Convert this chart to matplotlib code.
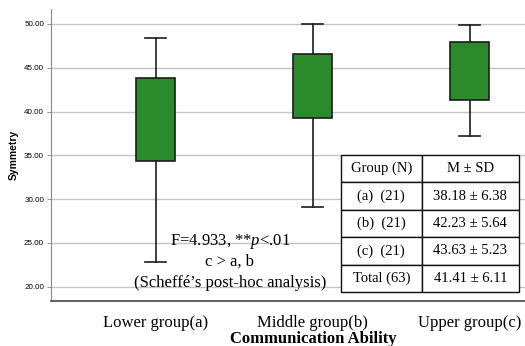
import matplotlib
matplotlib.use('Agg')
import matplotlib.pyplot as plt

# box statistics
groups = ["Lower group(a)", "Middle group(b)", "Upper group(c)"]
whislo = [22.8, 29.1, 37.2]
q1 = [34.4, 39.3, 41.35]
med = [38.1, 43.35, 44.3]
q3 = [43.8, 46.6, 47.9]
whishi = [48.4, 50.0, 49.9]

yticks = [20, 25, 30, 35, 40, 45, 50]

table_rows = [["Group (N)", "M \u00b1 SD"],
              ["(a)  (21)", "38.18 \u00b1 6.38"],
              ["(b)  (21)", "42.23 \u00b1 5.64"],
              ["(c)  (21)", "43.63 \u00b1 5.23"],
              ["Total (63)", "41.41 \u00b1 6.11"]]

anova_lines = ["F=4.933, **$\\mathit{p}$<.01", "c > a, b",
               "(Scheff\u00e9\u2019s post-hoc analysis)"]

plt.rcParams['mathtext.fontset'] = 'custom'
plt.rcParams['mathtext.it'] = 'Liberation Serif:italic'
plt.rcParams['mathtext.rm'] = 'Liberation Serif'
serif = 'Liberation Serif'
sans = 'Liberation Sans'

fig = plt.figure(figsize=(5.25, 3.46), dpi=100)
ax = fig.add_axes([51 / 525, 45 / 346, 474 / 525, 292 / 346])

stats = []
for i in range(len(groups)):
    stats.append(dict(whislo=whislo[i], q1=q1[i], med=med[i], q3=q3[i],
                      whishi=whishi[i], fliers=[]))

pos = list(range(len(groups)))
bp = ax.bxp(stats, positions=pos, widths=0.25, capwidths=0.13,
            patch_artist=True, showfliers=False,
            boxprops=dict(facecolor='#2b8a2b', edgecolor='#1c1c1c', linewidth=1.2),
            medianprops=dict(color='#111111', linewidth=1.6),
            whiskerprops=dict(color='#1c1c1c', linewidth=1.2),
            capprops=dict(color='#1c1c1c', linewidth=1.2))
for b in bp['boxes']:
    b.set_zorder(3)

ax.set_xlim(-104.7 / 157, (525 - 155.7) / 157)
ax.set_ylim(18.37, 51.7)
ax.set_yticks(yticks)
ax.set_yticklabels([f"{v:.2f}" for v in yticks], fontsize=5.8, family=sans)
ax.set_xticks(pos)
ax.set_xticklabels(groups, fontsize=12, family=serif)
ax.tick_params(axis='x', length=0, pad=10)
ax.tick_params(axis='y', length=3, color='#999999', pad=2)
ax.yaxis.grid(True, color='#c4c4c4', linewidth=1.0)
ax.set_axisbelow(True)
for s in ['top', 'right']:
    ax.spines[s].set_visible(False)
ax.spines['left'].set_color('#888888')
ax.spines['bottom'].set_color('#555555')
ax.spines['bottom'].set_linewidth(1.3)

ax.set_ylabel("Symmetry", fontsize=7.5, fontweight='bold', family=sans, labelpad=4)
fig.text(313 / 525, (346 - 331) / 346, "Communication Ability", ha='center', va='top',
         fontsize=12, fontweight='bold', family=serif)

for txt, yb in zip(anova_lines, [24.74, 22.46, 19.98]):
    ax.text(0.473, yb, txt, ha='center', va='baseline', fontsize=12, family=serif, zorder=5)

tb = ax.table(cellText=table_rows, cellLoc='center',
              colWidths=[80.7, 97.3],
              bbox=[(341 - 51) / 474, (301 - 292) / 292, 178 / 474, 137 / 292])
tb.auto_set_font_size(False)
for (r, c), cell in tb.get_celld().items():
    cell.set_edgecolor('#111111')
    cell.set_linewidth(1.0)
    cell.set_facecolor('white')
    cell.get_text().set_fontsize(10.5)
    cell.get_text().set_family(serif)
tb.set_zorder(6)

fig.savefig("out.png", dpi=100)
